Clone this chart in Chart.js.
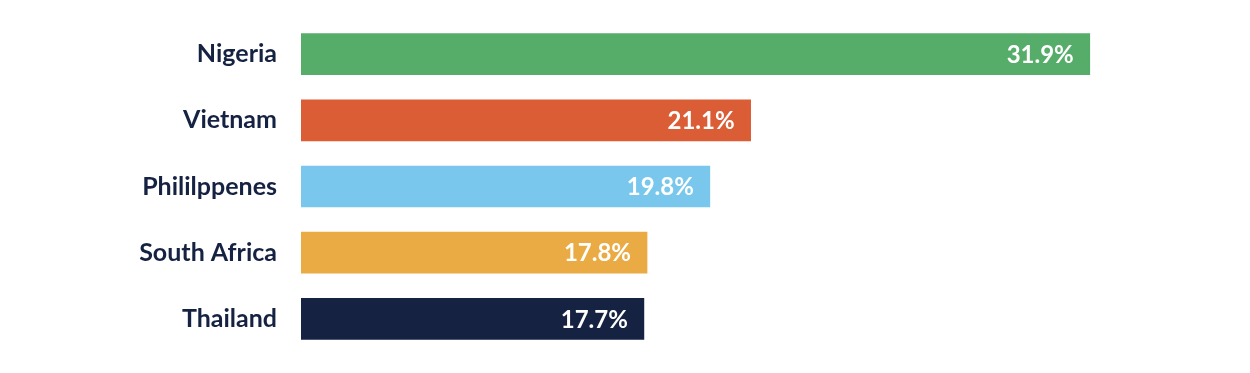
<!DOCTYPE html>
<html lang="en">
<head>
  <meta charset="UTF-8">
  <title>Share by country</title>
  <style>
    html, body { margin: 0; padding: 0; background: #fff; }
    #wrap { width: 1250px; height: 373px; }
  </style>
</head>
<body>
<div id="wrap"><canvas id="countries"></canvas></div>

<script src="https://cdn.jsdelivr.net/npm/chart.js"></script>
<script>
let countries = ["Nigeria", "Vietnam", "Phililppenes", "South Africa", "Thailand"]
let shares = [31.9, 21.1, 19.8, 17.8, 17.7]
let valueLabels = ["31.9%", "21.1%", "19.8%", "17.8%", "17.7%"]
let barColors = ["#56ad69", "#db5d36", "#79c7ed", "#eaab44", "#152242"]

// writes the percentage inside the end of each bar
const insideLabels = {
  id: "insideLabels",
  afterDatasetsDraw(chart) {
    const ctx = chart.ctx
    const meta = chart.getDatasetMeta(0)
    ctx.save()
    ctx.font = "bold 24px Lato"
    ctx.fillStyle = "#ffffff"
    ctx.textAlign = "right"
    ctx.textBaseline = "middle"
    meta.data.forEach(function (bar, i) {
      ctx.fillText(valueLabels[i], bar.x - 16, bar.y + 1)
    })
    ctx.restore()
  }
}

new Chart(document.getElementById("countries"), {
  type: "bar",
  data: {
    labels: countries,
    datasets: [
      {
        data: shares,
        backgroundColor: barColors,
        borderWidth: 0,
        barThickness: 41,
      },
    ],
  },
  options: {
    indexAxis: "y",
    responsive: true,
    maintainAspectRatio: false,
    animation: false,
    layout: { padding: { top: 21, bottom: 21, right: 50, left: 0 } },
    plugins: {
      legend: { display: false },
      tooltip: { enabled: false },
    },
    scales: {
      x: {
        display: false,
        min: 6.78,
        max: 35.41,
      },
      y: {
        grid: { display: false, drawTicks: false },
        border: { display: false },
        ticks: {
          color: "#152242",
          font: { family: "Lato", size: 25, weight: "bold" },
          padding: 24,
        },
        afterFit: function (axis) {
          axis.width = 301
          axis.paddingTop = 0
          axis.paddingBottom = 0
        },
      },
    },
  },
  plugins: [insideLabels],
})
</script>
</body>
</html>
